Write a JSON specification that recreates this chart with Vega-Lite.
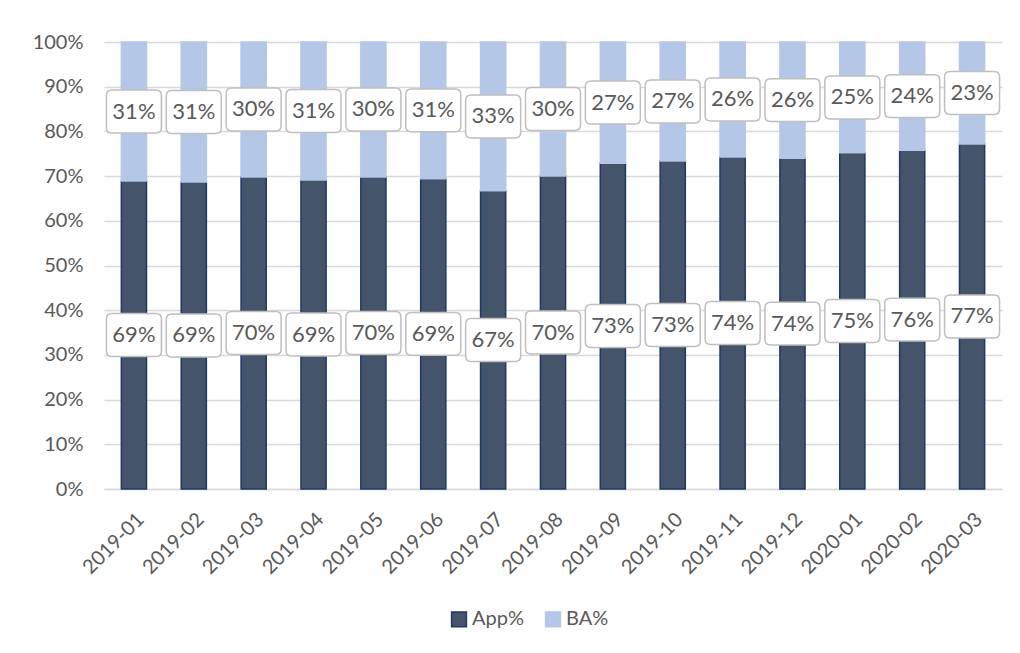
{
  "$schema": "https://vega.github.io/schema/vega-lite/v6.json",
  "width": 898,
  "height": 447,
  "autosize": "none",
  "padding": {"left": 104, "top": 42, "right": 18, "bottom": 164},
  "background": "white",
  "config": {"view": {"stroke": null}, "font": "Lato"},
  "data": {"values": [
    {"month": "2019-01", "series": "App%", "value": 0.689}, {"month": "2019-01", "series": "BA%", "value": 0.311},
    {"month": "2019-02", "series": "App%", "value": 0.687}, {"month": "2019-02", "series": "BA%", "value": 0.313},
    {"month": "2019-03", "series": "App%", "value": 0.698}, {"month": "2019-03", "series": "BA%", "value": 0.302},
    {"month": "2019-04", "series": "App%", "value": 0.691}, {"month": "2019-04", "series": "BA%", "value": 0.309},
    {"month": "2019-05", "series": "App%", "value": 0.698}, {"month": "2019-05", "series": "BA%", "value": 0.302},
    {"month": "2019-06", "series": "App%", "value": 0.694}, {"month": "2019-06", "series": "BA%", "value": 0.306},
    {"month": "2019-07", "series": "App%", "value": 0.667}, {"month": "2019-07", "series": "BA%", "value": 0.333},
    {"month": "2019-08", "series": "App%", "value": 0.700}, {"month": "2019-08", "series": "BA%", "value": 0.300},
    {"month": "2019-09", "series": "App%", "value": 0.729}, {"month": "2019-09", "series": "BA%", "value": 0.271},
    {"month": "2019-10", "series": "App%", "value": 0.734}, {"month": "2019-10", "series": "BA%", "value": 0.266},
    {"month": "2019-11", "series": "App%", "value": 0.743}, {"month": "2019-11", "series": "BA%", "value": 0.257},
    {"month": "2019-12", "series": "App%", "value": 0.740}, {"month": "2019-12", "series": "BA%", "value": 0.260},
    {"month": "2020-01", "series": "App%", "value": 0.752}, {"month": "2020-01", "series": "BA%", "value": 0.248},
    {"month": "2020-02", "series": "App%", "value": 0.758}, {"month": "2020-02", "series": "BA%", "value": 0.242},
    {"month": "2020-03", "series": "App%", "value": 0.772}, {"month": "2020-03", "series": "BA%", "value": 0.228}
  ]},
  "transform": [
    {"stack": "value", "groupby": ["month"], "sort": [{"field": "series", "order": "ascending"}], "as": ["y0", "y1"]},
    {"calculate": "(datum.y0 + datum.y1) / 2", "as": "ymid"}
  ],
  "encoding": {
    "x": {
      "field": "month", "type": "ordinal",
      "scale": {"paddingInner": 0.58, "paddingOuter": 0.29},
      "axis": {"title": null, "labelAngle": -45, "labelFontSize": 20, "labelColor": "#595959", "ticks": false, "domainColor": "#d9d9d9", "domainWidth": 1.5, "labelPadding": 20}
    }
  },
  "layer": [
    {
      "mark": {"type": "bar", "strokeWidth": 1.5},
      "encoding": {
        "y": {"field": "y0", "type": "quantitative", "scale": {"domain": [0, 1]},
          "axis": {"title": null, "format": ".0%", "values": [0, 0.1, 0.2, 0.3, 0.4, 0.5, 0.6, 0.7, 0.8, 0.9, 1], "labelFontSize": 20, "labelColor": "#595959", "labelPadding": 21, "ticks": false, "domain": false, "gridColor": "#d9d9d9", "gridWidth": 1.5}},
        "y2": {"field": "y1"},
        "color": {"field": "series", "type": "nominal", "scale": {"domain": ["App%", "BA%"], "range": ["#44546a", "#b4c7e7"]},
          "legend": {"title": null, "orient": "none", "direction": "horizontal", "legendX": 345, "legendY": 567, "labelFontSize": 20, "labelColor": "#595959", "symbolType": "square", "symbolSize": 220, "symbolStrokeWidth": 1.5, "columnPadding": 18, "labelOffset": 3}},
        "stroke": {"field": "series", "type": "nominal", "scale": {"domain": ["App%", "BA%"], "range": ["#1f3864", "#b4c7e7"]}, "legend": null}
      }
    },
    {
      "mark": {"type": "point", "shape": "M-0.8,-0.78 L0.8,-0.78 Q1,-0.78 1,-0.58 L1,0.58 Q1,0.78 0.8,0.78 L-0.8,0.78 Q-1,0.78 -1,0.58 L-1,-0.58 Q-1,-0.78 -0.8,-0.78 Z", "size": 3025, "filled": true, "color": "white", "stroke": "#bfbfbf", "strokeWidth": 1.5, "opacity": 1},
      "encoding": {"y": {"field": "ymid", "type": "quantitative"}}
    },
    {
      "mark": {"type": "text", "fontSize": 22, "color": "#595959"},
      "encoding": {"y": {"field": "ymid", "type": "quantitative"}, "text": {"field": "value", "type": "quantitative", "format": ".0%"}}
    }
  ]
}
